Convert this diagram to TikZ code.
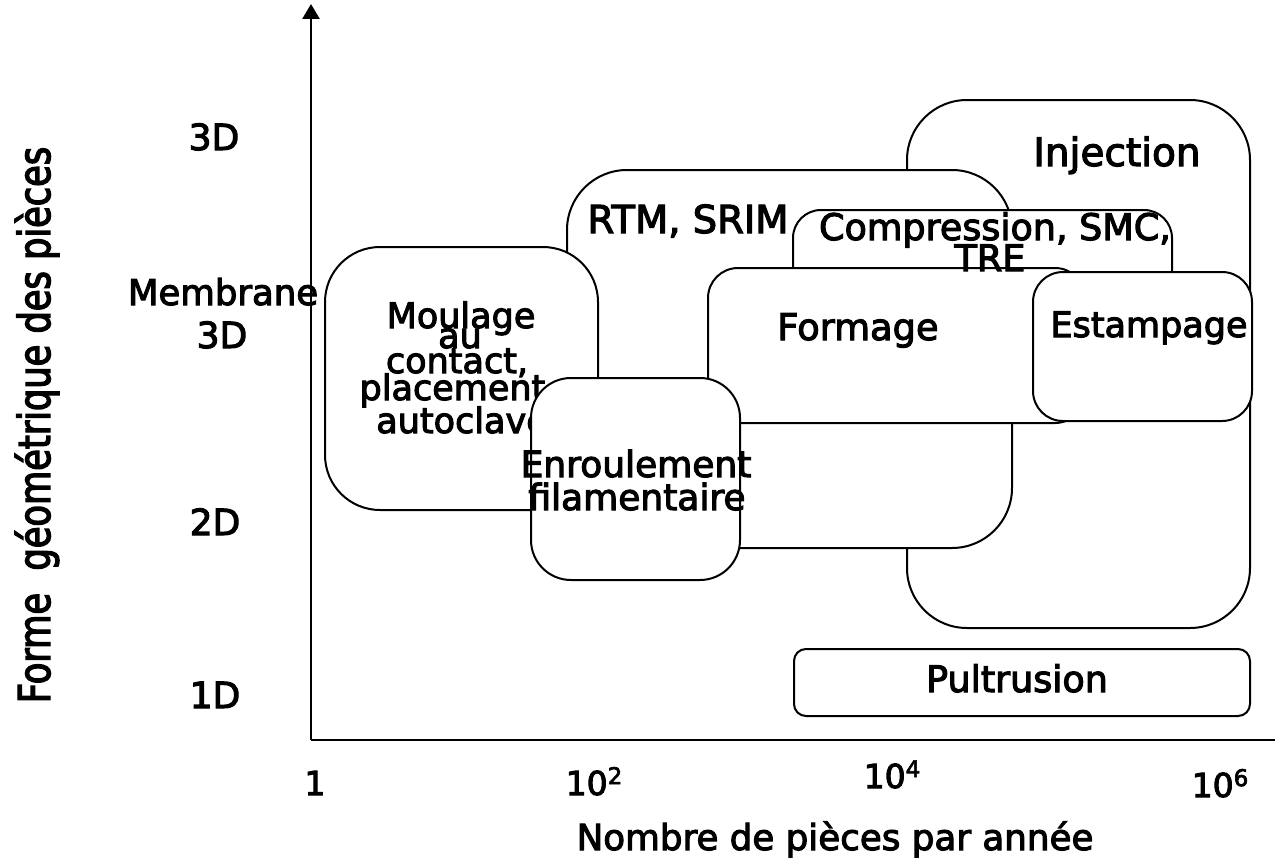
\documentclass[tikz,border=0pt]{standalone}
\usepackage{fontspec}
\setmainfont{DejaVu Sans}[FakeBold=3]
\newfontfamily\narrowfont{DejaVu Sans}[FakeStretch=0.8,FakeBold=3]
\usetikzlibrary{arrows.meta}
\newcommand\myfs[1]{\fontsize{#1}{#1}\selectfont}
\newcommand\supx[1]{\raisebox{0.33em}{\myfs{23}#1}}
\tikzset{
  procbox/.style={draw=black, fill=white, line width=2pt},
  lbl/.style={inner sep=0pt, anchor=base, font=\myfs{35}},
  axlbl/.style={inner sep=0pt, anchor=base, font=\myfs{35}},
  ticklbl/.style={inner sep=0pt, anchor=base, font=\myfs{33}},
  axisline/.style={line width=2.6pt}
}
\begin{document}
\begin{tikzpicture}[x=1pt,y=-1pt]
\useasboundingbox (0,0) rectangle (1275,867);
% axes
\coordinate (O) at (311,740);
\coordinate (ytop) at (311,4);
\coordinate (xend) at (1275,740);
\draw[axisline,-{Triangle[width=17pt,length=15pt]}] (O) -- (ytop);
\draw[axisline] (O) -- (xend);
% boxes
\draw[procbox, rounded corners=60pt] (907,100) rectangle (1250,628);
\node[lbl, font=\myfs{39}] (inj) at (1117,166) {Injection};
\draw[procbox, rounded corners=60pt] (567,170) rectangle (1012,548);
\node[lbl, font=\myfs{38.5}] (rtm) at (688,233) {RTM, SRIM};
\draw[procbox, rounded corners=28pt] (793,210) rectangle (1172,400);
\draw[procbox, rounded corners=30pt] (708,268) rectangle (1085,423);
\node[lbl, font=\myfs{36.5}] (comp) at (995,240) {Compression, SMC,};
\node[lbl, font=\myfs{36.5}] (tre) at (990,271) {TRE};
\node[lbl, font=\myfs{36.8}] (form) at (858,340) {Formage};
\draw[procbox, rounded corners=30pt] (1033,272) rectangle (1252,421);
\node[lbl] (estamp) at (1149,337) {Estampage};
\draw[procbox, rounded corners=55pt] (325,247) rectangle (598,510);
\node[lbl] (m1) at (461,328) {Moulage};
\node[lbl] (m2) at (460,348) {au};
\node[lbl] (m3) at (457,373) {contact,};
\node[lbl] (m4) at (458,400) {placement,};
\node[lbl] (m5) at (462,433) {autoclave};
\draw[procbox, rounded corners=40pt] (531,378) rectangle (740,580);
\node[lbl, font=\myfs{36}] (e1) at (636,477) {Enroulement};
\node[lbl, font=\myfs{36}] (e2) at (637,510) {filamentaire};
\draw[procbox, rounded corners=12pt] (794,649) rectangle (1250,716);
\node[lbl, font=\myfs{36.5}] (pult) at (1017,692) {Pultrusion};
% y labels
\node[axlbl, font=\myfs{36}] (y3d) at (214,150) {3D};
\node[axlbl, font=\myfs{35.5}] (memb) at (223,305) {Membrane};
\node[axlbl, font=\myfs{36}] (m3d) at (222,348) {3D};
\node[axlbl, font=\myfs{36}] (y2d) at (215,535) {2D};
\node[axlbl, font=\myfs{36}] (y1d) at (215,708) {1D};
% x labels
\node[ticklbl] (x1) at (315,795) {1};
\node[ticklbl] (x2) at (594,795) {10\supx{2}};
\node[ticklbl] (x4) at (892,788) {10\supx{4}};
\node[ticklbl] (x6) at (1220,797) {10\supx{6}};
\node[inner sep=0pt, anchor=base, font=\myfs{35.7}] (xtitle) at (835,850) {Nombre de pièces par année};
\node[inner sep=0pt, anchor=base, rotate=90, font=\narrowfont\myfs{44}] (ytitle) at (50,425) {Forme\ \ géométrique des pièces};
\end{tikzpicture}
\end{document}
